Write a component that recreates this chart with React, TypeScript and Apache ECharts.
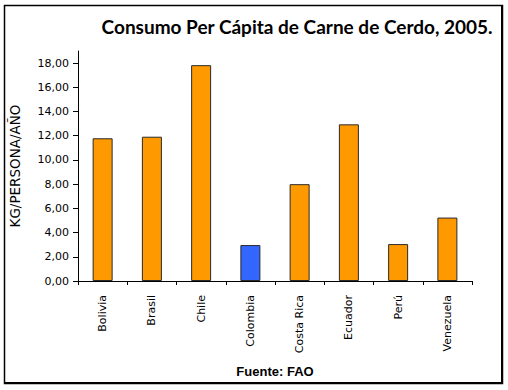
import React, { useEffect, useRef } from "react";
import * as echarts from "echarts";

const categories = ["Bolivia", "Brasil", "Chile", "Colombia", "Costa Rica", "Ecuador", "Perú", "Venezuela"];
const values = [11.79, 11.92, 17.83, 2.97, 8.0, 12.94, 3.05, 5.24];
const highlighted = "Colombia";
const yTicks = [0, 2, 4, 6, 8, 10, 12, 14, 16, 18];
const titleText = "Consumo Per Cápita de Carne de Cerdo, 2005.";
const yAxisName = "KG/PERSONA/AÑO";
const sourceText = "Fuente: FAO";

export default function App() {
  const ref = useRef<HTMLDivElement>(null);
  useEffect(() => {
    document.body.style.margin = "0";
    if (!ref.current) return;
    const chart = echarts.init(ref.current, null, { renderer: "svg" });
    chart.setOption({
      animation: false,
      backgroundColor: "#ffffff",
      title: {
        text: titleText,
        right: 10,
        top: 12,
        textStyle: { fontFamily: "Lato", fontWeight: "bold", fontSize: 19, color: "#000" },
      },
      graphic: [
        {
          type: "rect",
          z: 100,
          shape: { x: 4.5, y: 5.5, width: 498, height: 378 },
          style: { fill: "rgba(0,0,0,0)", stroke: "#000000", lineWidth: 1.5 },
          silent: true,
        },
        {
          type: "text",
          x: 275,
          y: 371,
          style: {
            text: sourceText,
            font: "bold 13px 'Liberation Sans', Arial, sans-serif",
            fill: "#000",
            textAlign: "center",
            textVerticalAlign: "middle",
          },
        },
      ],
      grid: { left: 77, right: 36, top: 51, bottom: 109 },
      xAxis: {
        type: "category",
        data: categories,
        axisLine: { lineStyle: { color: "#000", width: 1 } },
        axisTick: { show: true, length: 4, lineStyle: { color: "#000" } },
        axisLabel: {
          rotate: 90,
          margin: 14,
          fontFamily: "DejaVu Sans",
          fontSize: 11,
          color: "#000",
        },
      },
      yAxis: {
        type: "value",
        min: 0,
        max: 19,
        interval: 2,
        name: yAxisName,
        nameLocation: "middle",
        nameGap: 56,
        nameRotate: 90,
        nameTextStyle: { fontFamily: "DejaVu Sans", fontSize: 13.5, color: "#000" },
        splitLine: { show: false },
        axisLine: { show: true, lineStyle: { color: "#000", width: 1 } },
        axisTick: { show: true, length: 5, lineStyle: { color: "#000" }, customValues: yTicks },
        axisLabel: {
          customValues: yTicks,
          margin: 9,
          fontFamily: "DejaVu Sans",
          fontSize: 11,
          color: "#000",
          formatter: (v: number) => v.toFixed(2).replace(".", ","),
        },
      },
      series: [
        {
          type: "bar",
          barWidth: 20,
          data: categories.map((c, i) => ({
            value: values[i],
            itemStyle: {
              color: c === highlighted ? "#3366FF" : "#FF9900",
              borderColor: "#2a2a2a",
              borderWidth: 1,
            },
          })),
        },
      ],
    });
    return () => chart.dispose();
  }, []);
  return (
    <div style={{ position: "relative", width: 508, height: 390 }}>
      <div ref={ref} style={{ width: 508, height: 390 }} />
      <div
        style={{
          position: "absolute",
          left: 4,
          top: 5,
          width: 498,
          height: 378,
          border: "1.5px solid #000",
          boxSizing: "border-box",
          pointerEvents: "none",
        }}
      />
    </div>
  );
}
